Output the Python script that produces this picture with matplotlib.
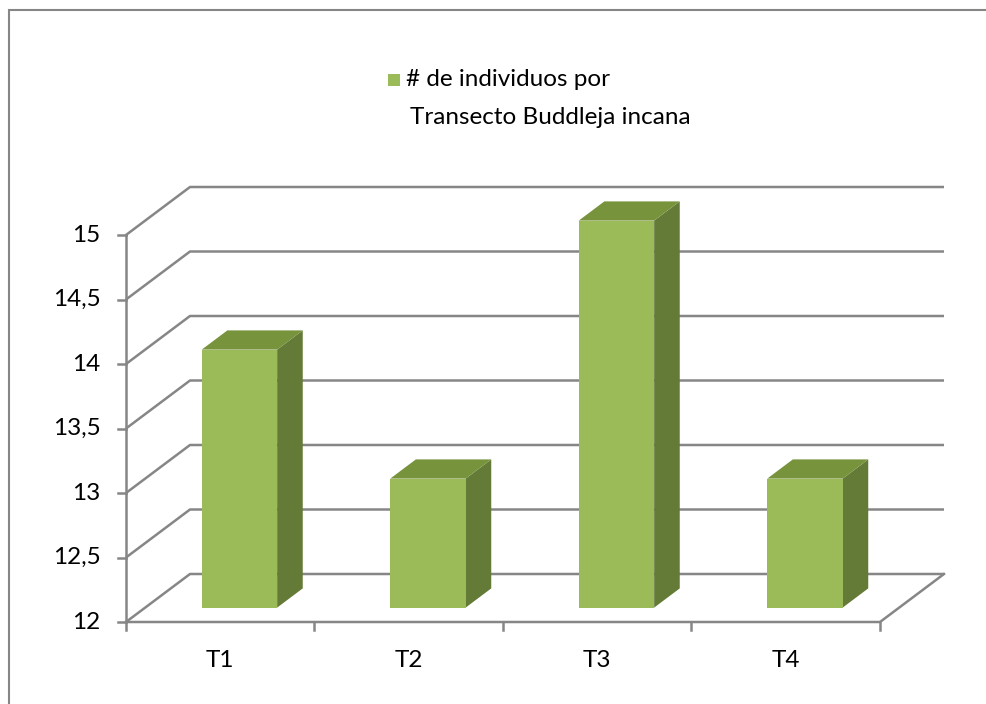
import numpy as np
import matplotlib
matplotlib.use("Agg")
import matplotlib.pyplot as plt
from matplotlib.patches import Polygon, Rectangle

categories = ["T1", "T2", "T3", "T4"]
values = [14, 13, 15, 13]
yticks = [12, 12.5, 13, 13.5, 14, 14.5, 15]
ytick_labels = ["12", "12,5", "13", "13,5", "14", "14,5", "15"]
legend_label = "# de individuos por\nTransecto Buddleja incana"

plt.rcParams['font.family'] = ['Lato', 'DejaVu Sans']
fs = 17.5

fig = plt.figure(figsize=(9.87, 7.04), dpi=100)
W, H = 987, 704
# front plane of the 3d box in pixel coords: x 126..880, y 622 (12) .. 235 (15)
ax = fig.add_axes([126 / W, (H - 622) / H, 754 / W, 387 / H])
ax.set_xlim(0, len(categories))
ax.set_ylim(yticks[0], yticks[-1])
ax.axis("off")

# depth offset of the back wall, in data units
ddx = 64 / 188.5
ddy = 48 / 129.0
grid = "#868686"
ymin = yticks[0]
n = len(categories)

# back wall gridlines and left wall diagonals
for v in yticks:
    ax.plot([0, ddx, n + ddx], [v, v + ddy, v + ddy], color=grid, lw=1.8,
            clip_on=False, solid_capstyle="butt", zorder=1)
# floor
ax.plot([0, n, n + ddx], [ymin, ymin, ymin + ddy], color=grid, lw=1.8,
        clip_on=False, zorder=1)
# front value axis
ax.plot([0, 0], [ymin, yticks[-1]], color=grid, lw=1.8, clip_on=False, zorder=1)
for v, lab in zip(yticks, ytick_labels):
    ax.plot([-0.04, 0], [v, v], color=grid, lw=1.8, clip_on=False)
    ax.text(-0.135, v, lab, ha="right", va="center", fontsize=fs, color="black")
# category ticks
for i in range(n + 1):
    ax.plot([i, i], [ymin, ymin - 0.06], color=grid, lw=1.8, clip_on=False)
for i, c in enumerate(categories):
    ax.text(i + 0.5, ymin - 0.3, c, ha="center", va="center", fontsize=fs)

# 3d bars, sitting in the middle 40% of the depth
front_c = "#9BBB59"
top_c = "#77933C"
side_c = "#647A37"
bw = 0.4
z0, z1 = 0.3, 0.7
for i, v in enumerate(values):
    x0 = i + 0.5 - bw / 2 + z0 * ddx
    x1 = x0 + bw
    b = ymin + z0 * ddy
    t = v + z0 * ddy
    ox = (z1 - z0) * ddx
    oy = (z1 - z0) * ddy
    ax.add_patch(Polygon([(x1, b), (x1 + ox, b + oy), (x1 + ox, t + oy), (x1, t)],
                         closed=True, fc=side_c, ec="none", clip_on=False, zorder=3))
    ax.add_patch(Polygon([(x0, t), (x1, t), (x1 + ox, t + oy), (x0 + ox, t + oy)],
                         closed=True, fc=top_c, ec="none", clip_on=False, zorder=3))
    ax.add_patch(Rectangle((x0, b), bw, v - ymin, fc=front_c, ec="none",
                           clip_on=False, zorder=4))

# legend
fig.patches.append(Rectangle((388 / W, 1 - 86 / H), 12 / W, 12 / H, fc=front_c,
                             ec="none", transform=fig.transFigure))
fig.text(406 / W, 1 - 80 / H, "# de individuos por", fontsize=fs, va="center")
fig.text(410 / W, 1 - 117 / H, "Transecto Buddleja incana", fontsize=fs, va="center")

# chart border
fig.patches.append(Rectangle((9 / W, -0.1), 1.2, 1 - 10 / H + 0.1, fill=False,
                             ec="#868686", lw=1.5, transform=fig.transFigure))

fig.savefig("out.png", dpi=100)
